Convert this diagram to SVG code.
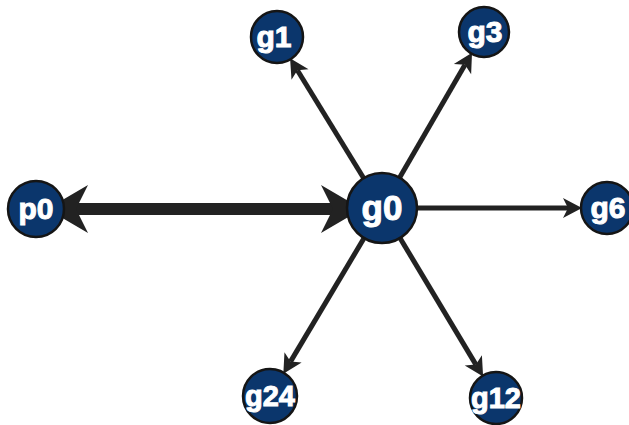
<svg xmlns="http://www.w3.org/2000/svg" width="629" height="425" viewBox="0 0 629 425">
<style>
.n{fill:#0b366c;stroke:#151515;stroke-width:2.5}
.t{fill:#fff;font-family:"Liberation Sans",Arial,sans-serif;font-weight:bold;text-anchor:middle;stroke:#fff;stroke-width:1}
.e{stroke:#222;fill:none;stroke-width:5}
.big{stroke:#222;fill:none;stroke-width:12}
</style>
<defs>
<marker id="ah" markerUnits="userSpaceOnUse" markerWidth="40" markerHeight="40" refX="5" refY="0" orient="auto" overflow="visible">
<path d="M0,-10 L19,0 L0,10 L5,0 Z" fill="#222"/>
</marker>
<marker id="bh" markerUnits="userSpaceOnUse" markerWidth="80" markerHeight="80" refX="12" refY="0" orient="auto-start-reverse" overflow="visible">
<path d="M0,-24 L41,0 L0,24 L12,0 Z" fill="#222"/>
</marker>
</defs>
<g id="edges">
<line class="big" x1="76" y1="209" x2="333" y2="209" marker-start="url(#bh)" marker-end="url(#bh)"/>
<line class="e" x1="382" y1="208" x2="297.4" y2="70.3" marker-end="url(#ah)"/>
<line class="e" x1="382" y1="208" x2="465" y2="64.8" marker-end="url(#ah)"/>
<line class="e" x1="382" y1="208" x2="568" y2="208" marker-end="url(#ah)"/>
<line class="e" x1="382" y1="208" x2="290.5" y2="361.6" marker-end="url(#ah)"/>
<line class="e" x1="382" y1="208" x2="475.9" y2="364.6" marker-end="url(#ah)"/>
</g>
<g id="g0"><circle class="n" cx="382" cy="208" r="35"/><text class="t" x="382" y="220" font-size="35">g0</text></g>
<g id="p0"><circle class="n" cx="36" cy="209" r="28"/><text class="t" x="36" y="219" font-size="30">p0</text></g>
<g id="g1"><circle class="n" cx="277" cy="37" r="26"/><text class="t" x="274" y="47" font-size="30">g1</text></g>
<g id="g3"><circle class="n" cx="484" cy="32" r="25"/><text class="t" x="485" y="42" font-size="30">g3</text></g>
<g id="g6"><circle class="n" cx="607" cy="208" r="26"/><text class="t" x="608" y="218" font-size="30">g6</text></g>
<g id="g24"><circle class="n" cx="270" cy="396" r="27"/><text class="t" x="270" y="406" font-size="29">g24</text></g>
<g id="g12"><circle class="n" cx="496" cy="398" r="26"/><text class="t" x="496" y="408" font-size="29">g12</text></g>
</svg>
